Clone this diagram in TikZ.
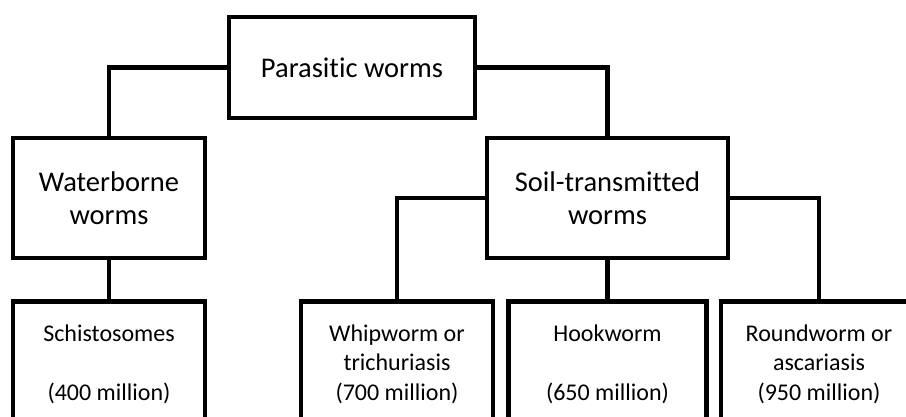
\documentclass[tikz,border=0pt]{standalone}
\usepackage{fontspec}
\setmainfont{Carlito}[Ligatures=NoCommon]
\begin{document}
\begin{tikzpicture}[x=1pt,y=-1pt,
  box/.style={draw, line width=4.8pt, inner sep=0pt, align=center,
    font=\fontsize{28.5}{33.5}\selectfont},
  leaf/.style={draw, line width=4.8pt, inner sep=0pt, align=center, anchor=north,
    minimum height=125pt, font=\fontsize{24}{29.5}\selectfont},
  link/.style={line width=4.8pt}]
\useasboundingbox (0,0) rectangle (906,417);
\clip (0,0) rectangle (906,417);
\fill[white] (0,0) rectangle (906,417);
\node[box, minimum width=246pt, minimum height=101pt] (par) at (352,67.5) {Parasitic worms};
\node[box, minimum width=192pt, minimum height=120pt] (water) at (109,198) {Waterborne\\worms};
\node[box, minimum width=241pt, minimum height=120pt] (soil) at (607.5,198) {Soil-transmitted\\worms};
\node[leaf, minimum width=192pt] (schis) at (109,299) {Schistosomes\\\strut\\(400 million)};
\node[leaf, minimum width=192pt] (whip) at (397,299) {Whipworm or\\trichuriasis\\(700 million)};
\node[leaf, minimum width=198pt] (hook) at (607.5,299) {Hookworm\\\strut\\(650 million)};
\node[leaf, minimum width=196pt] (round) at (819,299) {Roundworm or\\ascariasis\\(950 million)};
\draw[link] (par.west) -| (water.north);
\draw[link] (par.east) -| (soil.north);
\draw[link] (water.south) -- (schis.north);
\draw[link] (soil.west) -| (whip.north);
\draw[link] (soil.south) -- (hook.north);
\draw[link] (soil.east) -| (round.north);
\end{tikzpicture}
\end{document}
